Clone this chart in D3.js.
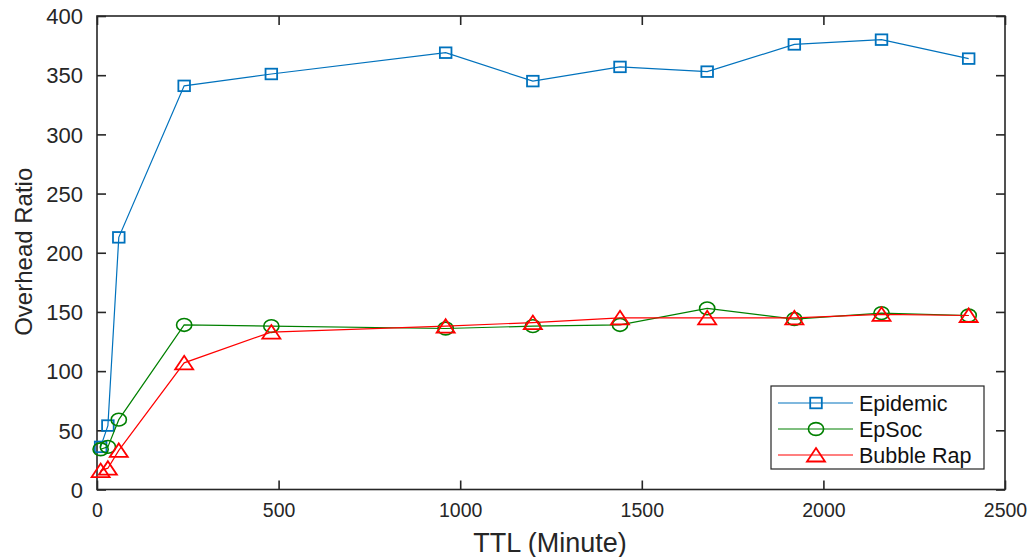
<!DOCTYPE html>
<html>
<head>
<meta charset="utf-8">
<script src="https://cdn.jsdelivr.net/npm/d3@7"></script>
<style>
  html, body { margin: 0; padding: 0; background: #fff; }
  svg { display: block; font-family: "Liberation Sans", Arial, Helvetica, sans-serif; }
</style>
</head>
<body>
<svg id="chart" width="1036" height="557"></svg>
<script>
// TTL values (minutes) shared by all three routing protocols
const ttl = [10, 30, 60, 240, 480, 960, 1200, 1440, 1680, 1920, 2160, 2400];

// Overhead ratio per protocol
const epidemic   = [36, 54, 213, 341, 351, 369, 345, 357, 353, 376, 380, 364];
const epsoc      = [34, 36, 59, 139, 138, 136, 138, 139, 153, 144, 149, 147];
const bubbleRap  = [16, 18, 33, 107, 133, 138, 141, 145, 145, 145, 148, 147];

const xTicks = [0, 500, 1000, 1500, 2000, 2500];
const yTicks = [0, 50, 100, 150, 200, 250, 300, 350, 400];

const seriesNames = ["Epidemic", "EpSoc", "Bubble Rap"];
const seriesValues = [epidemic, epsoc, bubbleRap];

const colors = ["#0072BD", "#008000", "#FF0000"];
const markers = ["square", "circle", "triangle"];

const svg = d3.select("#chart");
const plot = { left: 97, right: 1005, top: 16, bottom: 489.5 };
const axisColor = "#262626";

const x = d3.scaleLinear().domain([0, 2500]).range([plot.left, plot.right]);
const y = d3.scaleLinear().domain([0, 400]).range([plot.bottom, plot.top]);
const fmt = d3.format("d");

// Plot box
svg.append("rect")
  .attr("x", plot.left).attr("y", plot.top)
  .attr("width", plot.right - plot.left).attr("height", plot.bottom - plot.top)
  .attr("fill", "none").attr("stroke", axisColor).attr("stroke-width", 1.6);

// Axes with inward ticks, mirrored on top and right
const tickLen = 9;
const gx = svg.append("g").attr("transform", `translate(0,${plot.bottom})`)
  .call(d3.axisBottom(x).tickValues(xTicks).tickFormat(fmt).tickSizeInner(-tickLen).tickSizeOuter(0).tickPadding(14));
const gxTop = svg.append("g").attr("transform", `translate(0,${plot.top})`)
  .call(d3.axisTop(x).tickValues(xTicks).tickSizeInner(-tickLen).tickSizeOuter(0).tickFormat(""));
const gy = svg.append("g").attr("transform", `translate(${plot.left},0)`)
  .call(d3.axisLeft(y).tickValues(yTicks).tickFormat(fmt).tickSizeInner(-tickLen).tickSizeOuter(0).tickPadding(14));
const gyRight = svg.append("g").attr("transform", `translate(${plot.right},0)`)
  .call(d3.axisRight(y).tickValues(yTicks).tickSizeInner(-tickLen).tickSizeOuter(0).tickFormat(""));

[gx, gxTop, gy, gyRight].forEach(g => {
  g.select(".domain").remove();
  g.selectAll(".tick line").attr("stroke", axisColor).attr("stroke-width", 1.6);
  g.selectAll(".tick text").attr("fill", axisColor);
});
gx.selectAll(".tick text").style("font-size", "19.5px");
gy.selectAll(".tick text").style("font-size", "22px").attr("dy", "0.35em");

// Axis titles
svg.append("text")
  .attr("x", (plot.left + plot.right) / 2 - 1).attr("y", 552)
  .attr("text-anchor", "middle").attr("fill", axisColor)
  .style("font-size", "27px")
  .text("TTL (Minute)");
svg.append("text")
  .attr("transform", `translate(32,${(plot.top + plot.bottom) / 2 - 1}) rotate(-90)`)
  .attr("text-anchor", "middle").attr("fill", axisColor)
  .style("font-size", "24px")
  .text("Overhead Ratio");

// Marker drawing
function drawMarker(g, type, color) {
  if (type === "square") {
    g.append("rect").attr("x", -5.8).attr("y", -5.3).attr("width", 11.6).attr("height", 10.6)
      .attr("fill", "none").attr("stroke", color).attr("stroke-width", 1.8);
  } else if (type === "circle") {
    g.append("ellipse").attr("rx", 7.6).attr("ry", 6.4)
      .attr("fill", "none").attr("stroke", color).attr("stroke-width", 1.6);
  } else {
    g.append("path").attr("d", "M0,-7 L9,6.5 L-9,6.5 Z")
      .attr("fill", "none").attr("stroke", color).attr("stroke-width", 1.8)
      .attr("stroke-linejoin", "miter");
  }
}

const line = d3.line().x(d => x(d[0])).y(d => y(d[1]));

seriesValues.forEach((vals, i) => {
  const pts = ttl.map((t, j) => [t, vals[j]]);
  const g = svg.append("g");
  g.append("path").datum(pts)
    .attr("d", line).attr("fill", "none")
    .attr("stroke", colors[i]).attr("stroke-width", 1.2);
  g.selectAll("g.mk").data(pts).join("g")
    .attr("class", "mk")
    .attr("transform", d => `translate(${x(d[0])},${y(d[1])})`)
    .each(function () { drawMarker(d3.select(this), markers[i], colors[i]); });
});

// Legend
const lg = svg.append("g");
lg.append("rect").attr("x", 771).attr("y", 386).attr("width", 213).attr("height", 83)
  .attr("fill", "#fff").attr("stroke", axisColor).attr("stroke-width", 1.2);
const rowY = [403, 429, 455];
seriesNames.forEach((name, i) => {
  lg.append("line").attr("x1", 778).attr("x2", 853).attr("y1", rowY[i]).attr("y2", rowY[i])
    .attr("stroke", colors[i]).attr("stroke-width", 1.2);
  const mk = lg.append("g").attr("transform", `translate(816,${rowY[i]})`);
  drawMarker(mk, markers[i], colors[i]);
  lg.append("text").attr("x", 859).attr("y", rowY[i]).attr("dy", "0.35em")
    .attr("fill", "#111").style("font-size", "21.5px").text(name);
});
</script>
</body>
</html>
